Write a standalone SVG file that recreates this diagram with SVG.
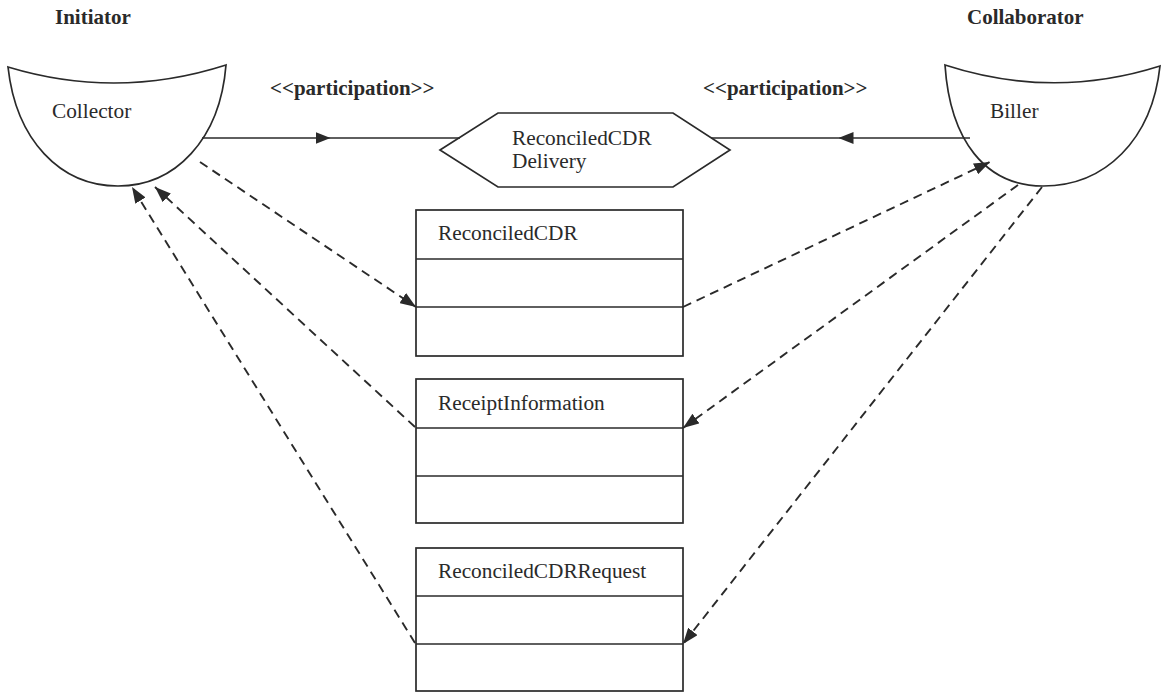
<svg xmlns="http://www.w3.org/2000/svg" width="1161" height="693" viewBox="0 0 1161 693">
  <style>
    .bg { fill: #ffffff; }
    .shape { fill: none; stroke: #2a2a2a; stroke-width: 1.7; }
    .solid { fill: none; stroke: #2a2a2a; stroke-width: 1.7; }
    .dash { fill: none; stroke: #2a2a2a; stroke-width: 1.9; stroke-dasharray: 9 6; }
    .lbl { font-family: "Liberation Serif", "Times New Roman", serif; font-size: 21.3px; fill: #2a2a2a; }
    .role { font-family: "Liberation Serif", "Times New Roman", serif; font-size: 21px; font-weight: bold; fill: #2a2a2a; }
  </style>
  <defs>
    <marker id="tri" viewBox="0 0 16 12" refX="16" refY="6" markerWidth="16" markerHeight="12" markerUnits="userSpaceOnUse" orient="auto">
      <path d="M0,0 L16,6 L0,12 z" fill="#2a2a2a"/>
    </marker>
    <marker id="triMid" viewBox="0 0 15 12" refX="7.5" refY="6" markerWidth="15" markerHeight="12" markerUnits="userSpaceOnUse" orient="auto">
      <path d="M0,0 L15,6 L0,12 z" fill="#2a2a2a"/>
    </marker>
  </defs>
  <rect class="bg" x="0" y="0" width="1161" height="693"/>

  <!-- role headings -->
  <text class="role" x="55" y="24">Initiator</text>
  <text class="role" x="967" y="24">Collaborator</text>

  <!-- stereotype labels -->
  <text class="role" x="270" y="95">&lt;&lt;participation&gt;&gt;</text>
  <text class="role" x="703" y="95">&lt;&lt;participation&gt;&gt;</text>

  <!-- participant roles -->
  <g id="collector">
    <path class="shape" d="M8,67 Q117,100 226,65 C220,140 175,186 118,186 C60,186 16,140 8,67 Z"/>
    <text class="lbl" x="52" y="118">Collector</text>
  </g>
  <g id="biller">
    <path class="shape" d="M945,65 Q1053,100 1160,66 C1152,140 1105,186 1043,186 C985,186 950,140 945,65 Z"/>
    <text class="lbl" x="990" y="118">Biller</text>
  </g>

  <!-- collaboration -->
  <g id="delivery">
    <path class="shape" d="M440,150 L498,113 L673,113 L730,150 L673,187 L498,187 Z"/>
    <text class="lbl" x="512" y="145">ReconciledCDR</text>
    <text class="lbl" x="512" y="168">Delivery</text>
  </g>

  <!-- business documents -->
  <g id="reconciledCDR">
    <rect class="shape" x="416" y="210" width="267" height="146"/>
    <line class="shape" x1="416" y1="259" x2="683" y2="259"/>
    <line class="shape" x1="416" y1="307" x2="683" y2="307"/>
    <text class="lbl" x="438" y="240">ReconciledCDR</text>
  </g>
  <g id="receiptInformation">
    <rect class="shape" x="416" y="379" width="267" height="144"/>
    <line class="shape" x1="416" y1="428" x2="683" y2="428"/>
    <line class="shape" x1="416" y1="476" x2="683" y2="476"/>
    <text class="lbl" x="438" y="410">ReceiptInformation</text>
  </g>
  <g id="reconciledCDRRequest">
    <rect class="shape" x="416" y="548" width="267" height="143"/>
    <line class="shape" x1="416" y1="596" x2="683" y2="596"/>
    <line class="shape" x1="416" y1="644" x2="683" y2="644"/>
    <text class="lbl" x="438" y="578">ReconciledCDRRequest</text>
  </g>

  <!-- connectors -->
  <g id="connectors">
    <path class="solid" d="M202,138 L323,138 L460,138" marker-mid="url(#triMid)"/>
    <path class="solid" d="M970,138 L846,138 L711,138" marker-mid="url(#triMid)"/>

    <path class="dash" d="M200,162 L416,307" marker-end="url(#tri)"/>
    <path class="dash" d="M415,427 L155,187" marker-end="url(#tri)"/>
    <path class="dash" d="M415,643 L132,187" marker-end="url(#tri)"/>

    <path class="dash" d="M683,307 L990,162" marker-end="url(#tri)"/>
    <path class="dash" d="M1018,185 L683,428" marker-end="url(#tri)"/>
    <path class="dash" d="M1042,187 L683,644" marker-end="url(#tri)"/>
  </g>
</svg>
